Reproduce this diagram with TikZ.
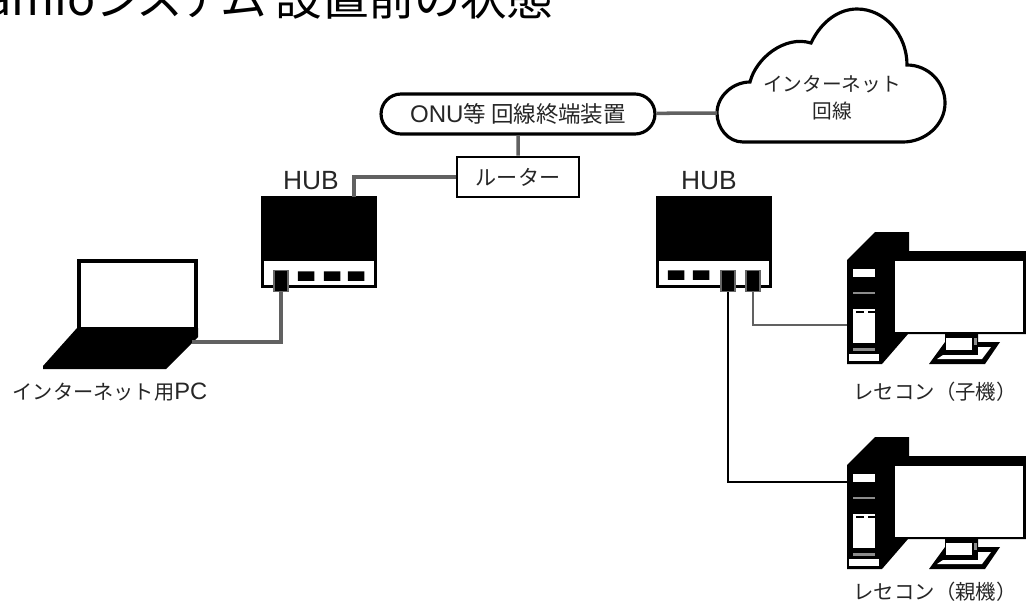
\documentclass[tikz,border=0pt]{standalone}
\usepackage{fontspec}
\setmainfont{Noto Sans CJK JP}
\newfontfamily\titlefont[RawFeature={+palt}]{Noto Sans CJK JP}
\newfontfamily\latinfont{Liberation Sans}
\usetikzlibrary{shapes.misc}
\tikzset{
	every node/.style={align=center, text=black!85},
	cable/.style={line width=2pt, draw=black!62},
	cablethin/.style={line width=1.2pt, draw=black},
	hubbody/.style={draw=black, line width=1.3pt, fill=white, minimum width=2.26cm, minimum height=1.78cm, inner sep=0pt},
	hubport/.style={chamfered rectangle, chamfered rectangle corners={south west, south east}, chamfered rectangle xsep=1.5pt, chamfered rectangle ysep=1.5pt, fill=black, minimum width=0.33cm, minimum height=0.19cm, inner sep=0pt},
	hubplug/.style={fill=black, draw=black!60, line width=0.6pt, minimum width=0.28cm, minimum height=0.42cm, inner sep=0pt},
	hublabel/.style={font=\latinfont\fontsize{15pt}{18pt}\selectfont},
	pclabel/.style={font=\fontsize{11.6pt}{14pt}\selectfont},
}
% one computer, #1 = shift down
\newcommand{\resecon}[1]{
	\begin{scope}[shift={(0,#1)}]
	\fill[black] (847,260) -- (875,232) -- (909,232) -- (909,251) -- (1026,251) -- (1026,334) -- (908,334) -- (882,364) -- (847,364) -- cycle;
	\fill[white] (895,261) rectangle (1023,332);
	\fill[white] (853,269) rectangle (875,277);
	\fill[black!45] (853,292) rectangle (875,294);
	\fill[white] (853,309) rectangle (875,343);
	\fill[black] (856,311) rectangle (864,313);
	\fill[black] (868,311) rectangle (875,313);
	\fill[black!45] (853,348) rectangle (875,351);
	\fill[white] (849,354) rectangle (879,361);
	\fill[black] (929,364) -- (985,364) -- (1000,342) -- (978,342) -- (978,334) -- (945,334) -- (945,342) -- cycle;
	\fill[white] (937,359) -- (982,359) -- (991,347) -- (978,347) -- (978,355) -- (943,355) -- cycle;
	\fill[white] (946,338) rectangle (972,350);
	\fill[black!45] (974,338) rectangle (977,345);
	\end{scope}
}
\begin{document}
\begin{tikzpicture}[x=0.02cm, y=-0.02cm]
	\useasboundingbox (0,0) rectangle (1026,602);
	\clip (0,0) rectangle (1026,602);

	% title, cut by the page
	\node[anchor=base west, inner sep=0pt, text=black, font=\titlefont\fontsize{26.5pt}{30pt}\selectfont] (title) at (-15,15) {amioシステム 設置前の状態};

	% cloud
	\draw [line width=1.8pt, fill=white] (717,113) .. controls (717,96) and (733,82) .. (750,82)
		.. controls (756,58) and (785,35) .. (811,43)
		.. controls (822,20) and (840,9) .. (857,9)
		.. controls (885,9) and (907,35) .. (907,65)
		.. controls (928,65) and (945,82) .. (945,103)
		.. controls (945,125) and (925,142) .. (903,142)
		-- (743,142) .. controls (728,142) and (717,128) .. (717,113) -- cycle;
	\coordinate (cloudw) at (717,113);
	\node[font=\fontsize{11.2pt}{15.4pt}\selectfont] (cloud) at (832,98) {インターネット\\回線};

	\node[draw, rounded rectangle, line width=1.8pt, fill=white, minimum width=5.48cm, minimum height=0.8cm, inner sep=0pt, font=\fontsize{12.8pt}{14pt}\selectfont] (onu) at (518,114) {{\latinfont\fontsize{13.7pt}{14pt}\selectfont ONU}等 回線終端装置};
	\node[draw, line width=1.6pt, fill=white, minimum width=2.44cm, minimum height=0.8cm, inner sep=0pt, font=\fontsize{12pt}{14pt}\selectfont] (router) at (518,177) {ルーター};

	% left hub
	\node[hublabel] (hubllabel) at (311,181) {HUB};
	\node[hubbody] (hubl) at (319,242) {};
	\fill[black] (hubl.north west) rectangle (376,261);
	\coordinate (hublin) at (354,197);
	\node[hubplug] (plugl) at (281,281) {};
	\node[hubport] (portla) at (306,276) {};
	\node[hubport] (portlb) at (332,276) {};
	\node[hubport] (portlc) at (356,276) {};

	% right hub
	\node[hublabel] (hubrlabel) at (709,181) {HUB};
	\node[hubbody] (hubr) at (714,242) {};
	\fill[black] (hubr.north west) rectangle (771,261);
	\node[hubport] (portra) at (676,275) {};
	\node[hubport] (portrb) at (701,275) {};
	\node[hubplug] (plugra) at (728,281) {};
	\node[hubplug] (plugrb) at (753,281) {};

	% laptop
	\node[draw, line width=2.3pt, fill=white, minimum width=2.34cm, minimum height=1.36cm, inner sep=0pt] (screen) at (137.5,295) {};
	\fill[black] (77,328) -- (198,328) -- (198,337) -- (166,369) -- (43,369) -- (43,366) -- cycle;
	\coordinate (laptope) at (192,342);
	\node[font=\fontsize{11.5pt}{14pt}\selectfont] (laptop) at (110,392) {インターネット用{\latinfont\fontsize{13.5pt}{14pt}\selectfont PC}};

	\resecon{0}
	\resecon{205}
	\node[pclabel] (childpc) at (935,392) {レセコン（子機）};
	\node[pclabel] (parentpc) at (935,592) {レセコン（親機）};
	\coordinate (childw) at (847,325);
	\coordinate (parentw) at (847,482);

	\draw [cable] (onu) -- (cloudw);
	\draw [cable] (onu) -- (router);
	\draw [cable] (router.west) -| (hublin);
	\draw [cable] (plugl) |- (laptope);
	\draw [cable, line width=1.6pt] (plugrb.south) |- (childw);
	\draw [cablethin] (plugra.south) |- (parentw);
\end{tikzpicture}
\end{document}
